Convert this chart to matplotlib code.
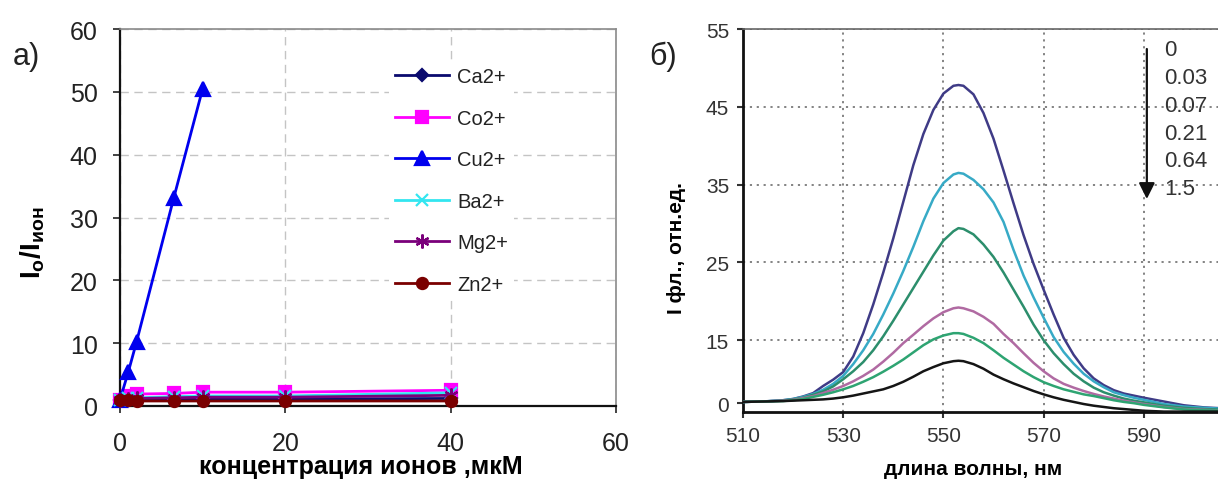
import numpy as np
import matplotlib
matplotlib.use('Agg')
import matplotlib.pyplot as plt

plt.rcParams.update({
    'font.family': ['Liberation Sans', 'DejaVu Sans'],
    'mathtext.fontset': 'custom',
    'mathtext.rm': 'Liberation Sans',
    'mathtext.bf': 'Liberation Sans:bold',
    'mathtext.it': 'Liberation Sans:italic',
    'text.color': '#222222',
    'xtick.color': '#222222',
    'ytick.color': '#222222',
})

# ---- panel a: quenching ratio vs ion concentration (uM) ----
conc = [0, 1, 2, 6.5, 10, 20, 40]
ca_ratio = [1.0, 1.0, 1.0, 1.0, 1.1, 1.1, 1.2]
co_ratio = [1.0, 1.6, 1.9, 2.0, 2.2, 2.2, 2.5]
cu_ratio = [1.0, 5.4, 10.2, 33.1, 50.5]          # measured only up to 10 uM
ba_ratio = [1.0, 1.2, 1.3, 1.5, 1.6, 1.6, 2.1]
mg_ratio = [1.0, 1.1, 1.2, 1.3, 1.4, 1.4, 1.7]
zn_ratio = [1.0, 0.9, 0.8, 0.8, 0.8, 0.8, 0.8]

# ---- panel b: fluorescence spectra at increasing Cu2+ ----
wavelength = [510, 514, 518,
              520, 522, 524, 526, 528, 530, 532, 534, 536, 538, 540, 542, 544, 546, 548, 550, 552,
              553,
              554, 556, 558, 560, 562, 564, 566, 568, 570, 572, 574, 576, 578, 580, 582, 584, 586, 588, 590,
              594, 598, 602, 607]
spec_0 = [0.3, 0.4, 0.7,
          1.0, 1.6, 2.4, 4.1, 5.6, 7.4, 11.1, 15.9, 19.6, 23.7, 28.1, 32.8, 37.5, 41.5, 44.6, 46.7, 47.7,
          47.8,
          47.7, 46.6, 44.2, 40.9, 36.8, 32.6, 28.5, 24.8, 21.5, 18.3, 15.3, 11.5, 8.3, 5.9, 4.3, 3.1, 2.3, 1.8, 1.3,
          0.4, -0.5, -1.0, -1.3]
spec_003 = [0.3, 0.4, 0.7,
            1.0, 1.5, 2.2, 3.2, 4.6, 6.5, 9.3, 12.6, 15.8, 18.3, 21.0, 23.9, 27.0, 30.3, 33.2, 35.2, 36.3,
            36.5,
            36.4, 35.6, 34.4, 32.7, 30.2, 26.6, 23.3, 20.5, 17.9, 15.4, 12.2, 9.4, 7.0, 5.2, 3.8, 2.6, 1.9, 1.3, 0.8,
            -0.2, -0.8, -1.1, -1.4]
spec_007 = [0.3, 0.4, 0.6,
            0.9, 1.3, 2.0, 2.8, 4.0, 5.7, 7.6, 9.8, 12.6, 15.5, 17.5, 19.6, 21.7, 23.8, 25.9, 27.8, 29.0,
            29.4,
            29.3, 28.6, 27.3, 25.7, 23.7, 21.5, 19.3, 17.0, 15.0, 11.9, 9.3, 7.0, 5.2, 3.7, 2.6, 1.8, 1.1, 0.6, 0.2,
            -0.6, -1.1, -1.4, -1.6]
spec_021 = [0.3, 0.4, 0.6,
            0.8, 1.2, 1.7, 2.4, 3.2, 4.1, 5.2, 6.5, 8.0, 9.9, 12.0, 14.3, 15.7, 16.8, 17.8, 18.6, 19.1,
            19.2,
            19.1, 18.7, 18.0, 17.1, 15.8, 14.3, 11.9, 9.6, 7.6, 5.9, 4.6, 3.7, 2.9, 2.2, 1.6, 1.1, 0.6, 0.2, -0.2,
            -0.9, -1.4, -1.6, -1.8]
spec_064 = [0.3, 0.4, 0.5,
            0.7, 1.0, 1.5, 2.0, 2.6, 3.3, 4.1, 5.1, 6.2, 7.5, 8.9, 10.4, 12.1, 13.8, 15.1, 15.6, 15.9,
            15.9,
            15.8, 15.3, 14.3, 12.6, 10.8, 9.2, 7.6, 6.2, 5.0, 4.1, 3.3, 2.7, 2.1, 1.7, 1.2, 0.7, 0.3, 0.0, -0.4,
            -1.0, -1.5, -1.7, -1.8]
spec_15 = [0.3, 0.4, 0.5,
           0.6, 0.7, 0.8, 0.9, 1.1, 1.4, 1.8, 2.3, 2.8, 3.3, 4.1, 5.1, 6.3, 7.6, 8.6, 9.5, 10.0,
           10.1,
           10.0, 9.3, 8.2, 6.8, 5.7, 4.7, 3.8, 2.9, 2.1, 1.4, 0.8, 0.3, -0.2, -0.6, -0.9, -1.2, -1.4, -1.6, -1.8,
           -2.0, -2.0, -2.0, -2.0]
cu_levels = ['0', '0.03', '0.07', '0.21', '0.64', '1.5']

W, H = 1218, 485
fig = plt.figure(figsize=(W / 100, H / 100), dpi=100)

# ================= panel a =================
ax1 = fig.add_axes([120 / W, 1 - 407 / H, 496 / W, 377 / H])
series = [
    (ca_ratio, 'Ca2+', '#0a0a6e', 'D', 6),
    (co_ratio, 'Co2+', '#ff00ff', 's', 8),
    (cu_ratio, 'Cu2+', '#0000ee', '^', 10),
    (ba_ratio, 'Ba2+', '#33e6f0', 'x', 8),
    (mg_ratio, 'Mg2+', '#7a007a', (6, 2, 0), 10),
    (zn_ratio, 'Zn2+', '#7a0000', 'o', 8),
]
for vals, name, col, mk, ms in series:
    ax1.plot(conc[:len(vals)], vals, color=col, lw=2, marker=mk, ms=ms,
             mfc=col, mec=col, mew=1.6, label=name, clip_on=False, zorder=3)

ax1.set_xlim(0, 60)
ax1.set_ylim(0, 60)
ax1.set_xticks([0, 20, 40, 60])
ax1.set_yticks(range(0, 61, 10))
ax1.grid(True, color='#c4c4c4', lw=1.0, ls=(0, (6, 4)))
ax1.set_axisbelow(True)
for s in ('left', 'bottom'):
    ax1.spines[s].set_color('#111111')
    ax1.spines[s].set_linewidth(1.6)
for s in ('top', 'right'):
    ax1.spines[s].set_color('#8a8a8a')
    ax1.spines[s].set_linewidth(1.2)
ax1.tick_params(axis='x', labelsize=18, length=5, width=1.2, pad=13)
ax1.tick_params(axis='y', labelsize=18, length=5, width=1.2, pad=11)

ax1.set_xlabel('концентрация ионов ,мкМ', fontsize=18, fontweight='bold', va='center')
ax1.xaxis.set_label_coords(0.486, (407 - 467) / 377)
ax1.set_ylabel(r'$\mathbf{I_o/I_{ион}}$', fontsize=20, va='center')
ax1.yaxis.set_label_coords((33 - 120) / 496, (407 - 243) / 377)

ax1.legend(loc='upper left', bbox_to_anchor=((389 - 120) / 496, (407 - 62) / 377),
           fontsize=14.5, frameon=True, facecolor='white', edgecolor='none',
           framealpha=1, borderpad=0.3, handlelength=2.7, handletextpad=0.4,
           labelspacing=1.12, borderaxespad=0)
fig.text(26 / W, 1 - 57 / H, 'а)', fontsize=22, ha='center', va='center')

# ================= panel b =================
K = 0.54   # the part of the axis below 15 is drawn compressed


def fwd(y):
    y = np.asarray(y, dtype=float)
    return np.where(y >= 15, y, 15 - (15 - y) * K)


def inv(v):
    v = np.asarray(v, dtype=float)
    return np.where(v >= 15, v, 15 - (15 - v) / K)


x0, x1 = 510, 607
ax2 = fig.add_axes([743 / W, 1 - 413 / H, (x1 - x0) * 5.01 / W, 383 / H])
ax2.set_yscale('function', functions=(fwd, inv))

spectra = [
    (spec_0, '#3f3b86'),
    (spec_003, '#37aac6'),
    (spec_007, '#2c8e6c'),
    (spec_021, '#b06aa2'),
    (spec_064, '#2ea472'),
    (spec_15, '#151515'),
]
for vals, col in spectra:
    ax2.plot(wavelength, vals, color=col, lw=1.8, zorder=3,
             solid_joinstyle='round', solid_capstyle='round')

ax2.set_xlim(x0, x1)
ax2.set_ylim(-2.1, 55)
ax2.set_xticks([510, 530, 550, 570, 590])
ax2.set_yticks([0, 15, 25, 35, 45, 55])
ax2.grid(True, color='#7a7a7a', lw=1.3, ls=(0, (1.2, 2.6)))
ax2.set_axisbelow(True)
ax2.yaxis.get_major_ticks()[0].gridline.set_visible(False)
ax2.xaxis.get_major_ticks()[0].gridline.set_visible(False)
for s in ('left', 'bottom'):
    ax2.spines[s].set_color('#111111')
    ax2.spines[s].set_linewidth(2.0)
ax2.spines['top'].set_color('#666666')
ax2.spines['top'].set_linewidth(1.2)
ax2.spines['right'].set_visible(False)
ax2.tick_params(axis='both', labelsize=15, length=4, width=1.5, pad=6, colors='#333333')

ax2.set_xlabel('длина волны, нм', fontsize=15, fontweight='bold', va='center')
ax2.xaxis.set_label_coords((972 - 743) / 483, (413 - 470) / 383)
ax2.set_ylabel('I фл., отн.ед.', fontsize=15, fontweight='bold', va='center')
ax2.yaxis.set_label_coords((677 - 743) / 483, (413 - 248) / 383)

# arrow showing growing Cu2+ concentration
ax2.annotate('', xy=(0.831, (413 - 200) / 383), xytext=(0.831, (413 - 50) / 383),
             xycoords='axes fraction',
             arrowprops=dict(arrowstyle='-|>', color='#111111', lw=1.6,
                             mutation_scale=24, shrinkA=0, shrinkB=0))
for i, lab in enumerate(cu_levels):
    ax2.text(0.866, (413 - 50 - i * 28) / 383, lab, transform=ax2.transAxes,
             fontsize=16, color='#333333', ha='left', va='center')
fig.text(663 / W, 1 - 57 / H, 'б)', fontsize=22, ha='center', va='center')

fig.savefig('out.png', dpi=100)
